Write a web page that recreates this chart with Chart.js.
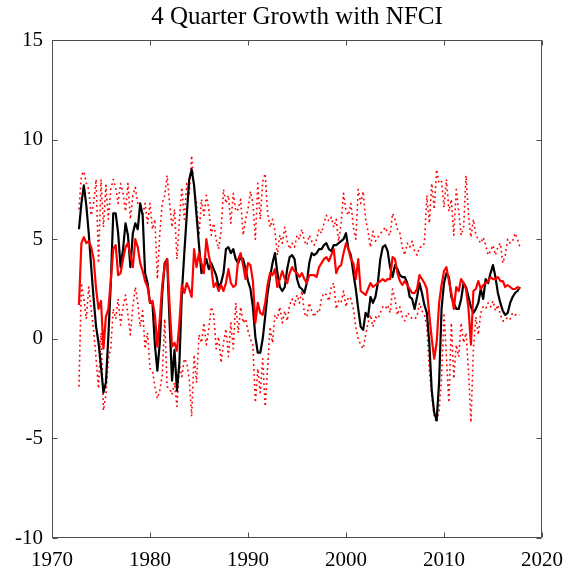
<!DOCTYPE html>
<html lang="en">
<head>
<meta charset="UTF-8">
<title>4 Quarter Growth with NFCI</title>
<script src="https://cdn.jsdelivr.net/npm/chart.js"></script>
<style>
  body { margin: 0; background: #fff; }
  #wrap { width: 575px; height: 577px; }
</style>
</head>
<body>
<div id="wrap"><canvas id="myChart"></canvas></div>
<script>
// quarterly observations, first one at 1972.75
const firstDate = 1972.75;

// realised 4 quarter GDP growth (black)
const gdpGrowth = [
  5.5, 6.8, 7.7, 6.7, 5.3, 3.6, 2.0, 0.6, -0.2, -1.4,
  -2.7, -2.2, 0.1, 2.8, 6.3, 6.3, 5.3, 3.6, 4.5, 5.8,
  5.2, 3.6, 5.3, 5.8, 5.5, 6.8, 6.2, 3.3, 2.8, 1.8,
  1.8, -0.3, -1.6, -0.2,
  2.3, 3.8, 4.0, 0.8, -2.1, -0.55, -2.6, -1.2, 2.3, 4.3,
  6.2, 8.0, 8.5, 7.7, 6.2, 4.7, 3.3, 3.6, 4.0, 3.5,
  3.8, 3.5, 3.2, 2.6, 2.8, 3.3, 4.5, 4.6, 4.3, 4.5,
  4.0, 3.8, 4.1, 4.0, 3.5, 2.9, 2.5,
  1.6, 0.1, -0.7, -0.7, 0.0, 1.1, 2.3, 3.1, 3.8, 4.3,
  3.3, 2.6, 2.4, 2.6, 3.5, 4.1, 4.2, 4.0, 3.0, 2.6,
  2.5, 2.3, 2.8, 3.8, 4.3, 4.2, 4.3, 4.5, 4.5, 4.7,
  4.8, 4.5, 4.4, 4.7, 4.7, 4.8,
  4.9, 5.0, 5.3, 4.5, 4.2, 3.3, 2.5, 1.5, 0.6, 0.45,
  1.3, 1.1, 2.1, 1.8, 2.1, 2.8, 4.0, 4.6, 4.7, 4.4,
  3.6, 3.1, 3.7, 3.5, 3.2, 3.1, 3.1, 2.8, 2.1, 2.0,
  1.5, 2.1, 2.8, 2.3, 1.7, 1.3, -0.2,
  -2.6, -3.7, -4.1, -2.2, 1.5, 2.8, 3.3, 3.1, 2.1, 1.8,
  1.5, 1.5, 2.0, 2.8, 2.6, 2.1, 1.6, 1.3, 1.5, 1.8,
  2.5, 2.0, 3.0, 2.8, 3.3, 3.7, 3.1, 2.3, 1.8, 1.4,
  1.2, 1.3, 1.8, 2.1, 2.3, 2.4, 2.6
];

// median conditional forecast (solid red)
const medianForecast = [
  1.7, 4.8, 5.1, 4.8, 4.9, 4.6, 4.0, 2.5, 1.5, 1.9,
  -0.5, 1.1, 1.5, 2.9, 4.5, 4.7, 3.2, 3.3, 4.0, 4.6,
  4.8, 4.2, 3.6, 5.0, 4.6, 3.8, 3.4, 2.9, 2.6, 1.8,
  1.9, 1.2, -0.4, 1.0,
  2.7, 3.7, 4.0, 1.7, -0.4, -0.2, -0.6, 0.8, 2.7, 2.3,
  2.8, 2.5, 2.1, 4.5, 3.6, 4.3, 3.8, 3.3, 5.0, 4.2,
  3.6, 2.6, 2.8, 2.4, 2.7, 2.4, 2.8, 3.5, 2.8, 2.6,
  2.7, 4.0, 4.3, 3.7, 3.0, 3.8, 3.7,
  2.9, 0.8, 1.8, 1.3, 1.2, 1.8, 2.7, 3.3, 3.2, 3.5,
  2.6, 3.0, 3.4, 3.0, 2.8, 3.3, 3.6, 3.4, 3.3, 3.1,
  3.3, 3.0, 2.8, 3.2, 3.2, 3.2, 3.1, 3.6, 3.8, 4.0,
  4.1, 3.9, 4.2, 4.5, 3.3, 3.6,
  3.7, 4.3, 4.8, 4.5, 4.0, 3.8, 3.0, 4.0, 2.4, 2.3,
  2.2, 2.5, 2.8, 2.6, 2.7, 2.8, 2.9, 3.0, 2.9, 3.0,
  3.0, 4.1, 4.0, 3.3, 2.9, 2.7, 2.9, 2.7, 2.5, 2.3,
  2.3, 2.5, 3.2, 3.0, 2.8, 2.5, 1.2,
  0.0, -1.0, -0.2, 1.8, 2.7, 3.4, 3.6, 2.9, 2.3, 1.5,
  2.6, 2.4, 3.0, 2.8, 2.5, 1.5, -0.3, 2.4, 2.5, 2.9,
  2.5, 2.7, 2.8, 2.9, 3.1, 3.0, 3.0, 3.1, 2.9, 2.9,
  2.6, 2.7, 2.6, 2.5, 2.5, 2.6, 2.5
];

// upper quantile (dotted red)
const upperQuantile = [
  6.5, 8.2, 8.4, 7.8, 7.5, 6.2, 6.8, 8.0, 3.8, 8.0,
  5.6, 7.7, 6.0, 7.5, 8.0, 7.6, 6.8, 7.8, 7.3, 6.4,
  7.8, 6.0, 7.2, 7.6, 6.8, 6.6, 6.2, 6.8, 5.8, 6.8,
  5.5, 6.0, 3.0, 5.3,
  6.8, 7.2, 8.2, 6.8, 5.6, 6.5, 4.0, 6.0, 7.6, 6.0,
  7.8, 7.2, 9.2, 7.5, 6.8, 5.2, 7.0, 6.2, 7.2, 6.5,
  5.2, 5.8, 5.0, 4.5, 5.4, 7.5, 6.8, 7.2, 5.8, 7.3,
  6.4, 6.5, 7.0, 5.2, 6.0, 6.5, 7.4,
  6.8, 5.0, 7.8, 6.0, 7.9, 8.3, 6.3, 5.6, 6.0, 5.4,
  4.2, 5.2, 4.8, 5.6, 4.9, 4.5, 4.8, 4.6, 5.2, 5.0,
  5.5, 4.9, 4.7, 5.2, 4.9, 4.7, 5.0, 5.5, 5.3, 5.8,
  6.2, 5.9, 6.1, 5.6, 6.0, 4.9,
  5.8, 7.3, 6.4, 6.2, 6.8, 5.6, 5.0, 7.5, 6.8, 7.4,
  6.0, 5.4, 4.6, 5.4, 4.9, 5.1, 5.3, 5.4, 5.6, 5.3,
  5.2, 6.3, 6.0, 5.5, 5.3, 4.6, 4.2, 4.8, 4.6, 4.9,
  4.4, 4.2, 4.6, 4.6, 4.8, 7.2, 5.8,
  7.8, 6.5, 8.5, 7.8, 7.9, 6.6, 8.0, 6.4, 7.0, 5.2,
  7.5, 6.4, 5.2, 5.6, 8.2, 6.2, 5.1, 6.0, 5.2, 5.0,
  4.8, 5.1, 4.7, 4.2, 4.4, 4.7, 4.2, 4.6, 4.8, 3.8,
  4.2, 5.0, 4.8, 4.9, 5.3, 5.0, 4.6
];

// lower quantile (dotted red)
const lowerQuantile = [
  -2.4, 2.8, 2.0, 1.0, 2.6, 1.5, 0.4, -1.0, -2.5, 0.3,
  -3.6, -2.8, -1.0, -0.5, 1.5, 1.0, 2.0, 0.7, 1.6, 2.2,
  1.2, 0.2, 1.6, 2.6, 1.8, 0.6, 1.4, -0.5, 0.3, -1.5,
  -1.6, -2.4, -3.0, -2.6,
  -1.8, 1.0, -2.4, -2.5, -2.8, -2.2, -3.4, -1.3, -1.9, -1.0,
  -1.2, -2.0, -3.9, -0.8, -2.2, 0.2, -0.2, 0.8, -0.3, 0.5,
  1.6, 1.2, -0.5, 0.1, -1.2, -0.2, 0.5, -0.9, 0.8, -0.5,
  1.8, 0.3, 1.6, 0.8, 1.0, 0.4, 0.0,
  -0.3, -3.2, -1.5, -2.7, -1.0, -3.4, -1.5, 0.6, -0.2, 1.2,
  1.0, 1.6, 0.8, 1.4, 0.9, 1.7, 2.0, 1.7, 2.2, 1.8,
  2.4, 1.3, 1.1, 1.8, 1.4, 1.1, 1.4, 1.3, 2.0, 2.3,
  2.2, 1.9, 2.6, 2.8, 1.5, 1.9,
  1.8, 2.4, 1.6, 2.1, 2.0, 1.5, 0.6, 0.0, -0.3, -0.5,
  0.2, 0.8, 1.2, 0.6, 1.1, 1.0, 1.3, 1.6, 1.5, 1.7,
  1.3, 2.5, 2.0, 1.2, 1.6, 1.1, 0.9, 1.3, 1.2, 1.0,
  1.0, 1.1, 1.8, 1.4, 1.2, 0.6, -1.6,
  -2.8, -3.9, -4.2, -3.6, -2.0, 1.3, -1.0, -3.2, 0.8, -2.0,
  -0.3, -0.9, 0.8, -0.2, 0.3, -1.6, -4.2, -0.5, 1.1, 0.2,
  1.3, 1.6, 1.5, 1.8, 1.6, 1.9, 1.4, 1.7, 1.2, 0.9,
  0.9, 1.1, 1.0, 1.3, 1.2, 1.2, 1.2
];

const xTicks = [1970, 1980, 1990, 2000, 2010, 2020];
const yTicks = [-10, -5, 0, 5, 10, 15];

const dates = gdpGrowth.map((_, i) => firstDate + i / 4);
const toPoints = arr => arr.map((v, i) => ({ x: dates[i], y: v }));

const serif = "'Liberation Serif', 'Times New Roman', serif";

// MATLAB style box with inward ticks on all four sides
const boxPlugin = {
  id: 'box',
  afterDatasetsDraw(chart) {
    const { ctx, chartArea: a, scales } = chart;
    const L = Math.round(a.left) + 0.5, R = Math.round(a.right) - 0.5;
    const T = Math.round(a.top) + 0.5, B = Math.round(a.bottom) - 0.5;
    ctx.save();
    ctx.strokeStyle = '#4d4d4d';
    ctx.lineWidth = 1;
    ctx.beginPath();
    ctx.rect(L, T, R - L, B - T);
    xTicks.forEach(v => {
      const px = Math.round(scales.x.getPixelForValue(v)) + 0.5;
      ctx.moveTo(px, B); ctx.lineTo(px, B - 5);
      ctx.moveTo(px, T); ctx.lineTo(px, T + 5);
    });
    yTicks.forEach(v => {
      const py = Math.round(scales.y.getPixelForValue(v)) + 0.5;
      ctx.moveTo(L, py); ctx.lineTo(L + 5, py);
      ctx.moveTo(R, py); ctx.lineTo(R - 5, py);
    });
    ctx.stroke();
    ctx.restore();
  }
};

const ctx = document.getElementById('myChart').getContext('2d');
new Chart(ctx, {
  type: 'line',
  data: {
    datasets: [
      { label: 'Median', data: toPoints(medianForecast), borderColor: '#ff0000', borderWidth: 2.2, order: 0 },
      { label: 'GDP growth', data: toPoints(gdpGrowth), borderColor: '#000000', borderWidth: 2.2, order: 1 },
      { label: 'Upper', data: toPoints(upperQuantile), borderColor: '#ff0000', borderWidth: 1.6, borderDash: [1.8, 3.2], order: 2 },
      { label: 'Lower', data: toPoints(lowerQuantile), borderColor: '#ff0000', borderWidth: 1.6, borderDash: [1.8, 3.2], order: 2 }
    ]
  },
  options: {
    responsive: true,
    maintainAspectRatio: false,
    animation: false,
    devicePixelRatio: 1,
    elements: {
      point: { radius: 0 },
      line: { tension: 0, borderJoinStyle: 'round', fill: false }
    },
    layout: { padding: { left: 0, right: 33, top: 0, bottom: 0 } },
    plugins: {
      legend: { display: false },
      tooltip: { enabled: false },
      title: {
        display: true,
        fullSize: false,
        text: '4 Quarter Growth with NFCI',
        color: '#000',
        font: { family: serif, size: 25, weight: 'normal' },
        padding: { top: 2, bottom: 8 }
      }
    },
    scales: {
      x: {
        type: 'linear',
        min: 1970,
        max: 2020,
        afterBuildTicks: s => { s.ticks = xTicks.map(v => ({ value: v })); },
        afterFit: s => { s.height = 39; },
        grid: { display: false, drawTicks: false },
        border: { display: false },
        ticks: { color: '#000', padding: 10, maxRotation: 0, font: { family: serif, size: 21 }, callback: v => String(v) }
      },
      y: {
        min: -10,
        max: 15,
        afterBuildTicks: s => { s.ticks = yTicks.map(v => ({ value: v })); },
        afterFit: s => { s.width = 52; },
        grid: { display: false, drawTicks: false },
        border: { display: false },
        ticks: { color: '#000', padding: 9, font: { family: serif, size: 21 } }
      }
    }
  },
  plugins: [boxPlugin]
});
</script>
</body>
</html>
